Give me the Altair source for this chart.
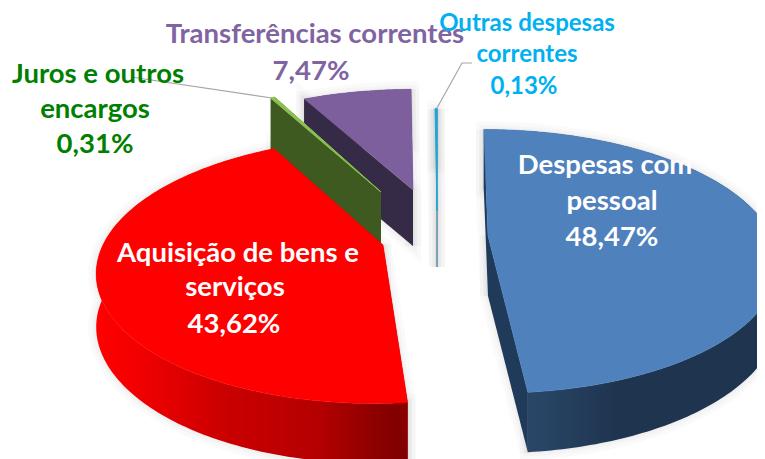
import math
import altair as alt

# Data
categories = ["Despesas com pessoal", "Aquisição de bens e serviços", "Juros e outros encargos",
              "Transferências correntes", "Outras despesas correntes"]
values = [48.47, 43.62, 0.31, 7.47, 0.13]

W, H, OFF = 749, 451, 8
K = 0.192

# Layout of each exploded slice in page pixels: vertex x, y, half-axis a, tilt b, depth axis d, thickness
layout = {
    0: (488, 236, 284, -5, 127, 60),
    1: (383, 245, 280, 7, 128, 60),
    2: (381, 192, 280, 5, 125, 53),
    3: (413, 190, 277, 0, 120, 56),
    4: (437, 211, 280, 0, 122, 56),
}

total = sum(values)
spans = []
c = 0.0
for v in values:
    spans.append((c / total * 2 * math.pi, (c + v) / total * 2 * math.pi))
    c += v


def rim(i, t):
    vx, vy, a, b, d, dep = layout[i]
    w = 1 + K * math.cos(t)
    return ((a * math.sin(t) + b * math.cos(t)) / w + vx - OFF,
            -d * math.cos(t) / w + vy - OFF)


def vertex(i):
    return (layout[i][0] - OFF, layout[i][1] - OFF)


def drop(p, i, t=None):
    dep = layout[i][5]
    if t is not None:
        dep *= 1 - 0.12 * math.sin(t) ** 2
    return (p[0], p[1] + dep)


def arc_pts(i, t0, t1):
    n = max(2, int((t1 - t0) * 60))
    return [rim(i, t0 + (t1 - t0) * j / n) for j in range(n + 1)], [t0 + (t1 - t0) * j / n for j in range(n + 1)]


def feature(pts):
    ring = [list(p) for p in pts]
    ring.append(ring[0])
    return {"type": "Feature", "properties": {}, "geometry": {"type": "Polygon", "coordinates": [ring]}}


def top_face(i):
    t0, t1 = spans[i]
    pts, _ = arc_pts(i, t0, t1)
    return feature([vertex(i)] + pts)


def outer_wall(i):
    t0, t1 = spans[i]
    pts, ts = arc_pts(i, t0, t1)
    low = [drop(p, i, t) for p, t in zip(pts, ts)]
    return feature(pts + low[::-1])


def edge_wall(i, t):
    v = vertex(i)
    r = rim(i, t)
    return feature([v, r, drop(r, i), drop(v, i)])


def geo(feats, **kw):
    return alt.Chart(alt.Data(values=feats)).mark_geoshape(clip=True, **kw).project(
        type="identity", scale=1, translate=[0, 0])


def slice_shape(i):
    return [outer_wall(i), edge_wall(i, spans[i][0]), edge_wall(i, spans[i][1])]


def hgrad(*stops):
    return alt.Gradient(gradient="linear", x1=0, x2=1, y1=0, y2=0,
                        stops=[alt.GradientStop(offset=o, color=c) for o, c in stops])


red_wall = hgrad((0, "#FF0000"), (0.12, "#F40000"), (0.4, "#CC0000"), (0.72, "#B40000"), (0.9, "#8C0000"), (1, "#7F0000"))
blue_wall = hgrad((0, "#2A4868"), (0.2, "#284565"), (0.45, "#1F344F"), (1, "#1F344F"))

layers = []
# soft shadows round the slice walls
for sw in (16, 9, 4):
    for i in (3, 4, 1, 0):
        layers.append(geo(slice_shape(i), fill="#000000", fillOpacity=0,
                          stroke="#000000", strokeWidth=sw, strokeOpacity=0.02))

# Transferências
layers.append(geo([edge_wall(3, spans[3][0]), edge_wall(3, spans[3][1]), outer_wall(3)], fill="#352B47"))
layers.append(geo([top_face(3)], fill="#7E5F9E", stroke="#7E5F9E", strokeWidth=0.5))
# Juros
layers.append(geo([edge_wall(2, spans[2][0]), edge_wall(2, spans[2][1])], fill="#3F5A20"))
layers.append(geo([top_face(2)], fill="#8CC152", stroke="#8CC152", strokeWidth=1))
# Outras
layers.append(geo([edge_wall(4, spans[4][1])], stroke="#5B8FA8", strokeWidth=1, fill="#5B8FA8"))
layers.append(geo([top_face(4)], stroke="#16A8DC", strokeWidth=1, fill="#16A8DC"))
# Aquisição
layers.append(geo([outer_wall(1)], fill=red_wall))
layers.append(geo([edge_wall(1, spans[1][0]), edge_wall(1, spans[1][1])], fill="#8A0000"))
layers.append(geo([top_face(1)], fill="#FF0000", stroke="#FF0000", strokeWidth=0.5))
# Despesas
layers.append(geo([outer_wall(0)], fill=blue_wall))
layers.append(geo([edge_wall(0, spans[0][0]), edge_wall(0, spans[0][1])], fill="#203A5A"))
layers.append(geo([top_face(0)], fill="#4F81BD", stroke="#4F81BD", strokeWidth=0.5))


def pct(v):
    return f"{v:.2f}".replace(".", ",") + "%"


# Leader lines (page pixels)
leaders = [
    [(131, 77), (272, 98)],
    [(437, 108), (462, 63), (472, 63)],
]
for seg in leaders:
    rows = [{"x": x - OFF, "y": y - OFF, "o": n} for n, (x, y) in enumerate(seg)]
    layers.append(alt.Chart(alt.Data(values=rows)).mark_line(color="#A6A6A6", strokeWidth=1.2).encode(
        x=alt.X("x:Q", scale=None, axis=None), y=alt.Y("y:Q", scale=None, axis=None), order="o:Q"))

label_rows = [
    ("Despesas com", 605, 166, "#FFFFFF", 27.5), ("pessoal", 612, 202, "#FFFFFF", 27.5), (pct(values[0]), 612, 238, "#FFFFFF", 27.5),
    ("Aquisição de bens e", 238, 254, "#FFFFFF", 27.5), ("serviços", 235, 288, "#FFFFFF", 27.5), (pct(values[1]), 234, 325, "#FFFFFF", 27.5),
    ("Juros e outros", 98, 75, "#008000", 27.5), ("encargos", 95, 110, "#008000", 27.5), (pct(values[2]), 95, 145, "#008000", 27.5),
    ("Transferências correntes", 315, 35, "#8064A2", 27.5), (pct(values[3]), 311, 72, "#8064A2", 27.5),
    ("Outras despesas", 527, 24, "#00B0F0", 24), ("correntes", 527, 55, "#00B0F0", 24), (pct(values[4]), 524, 87, "#00B0F0", 24),
]
text_data = [{"t": t, "x": x - OFF, "y": y - OFF, "c": c, "s": s} for t, x, y, c, s in label_rows]
layers.append(alt.Chart(alt.Data(values=text_data)).mark_text(
    font="Lato", fontWeight="bold", align="center", baseline="middle").encode(
    x=alt.X("x:Q", scale=None, axis=None), y=alt.Y("y:Q", scale=None, axis=None),
    text="t:N", color=alt.Color("c:N", scale=None, legend=None),
    size=alt.Size("s:Q", scale=None, legend=None)))

chart = alt.layer(*layers).properties(
    width=W, height=H, padding=0, autosize=alt.AutoSizeParams(type="none"), background="white"
).configure_view(stroke=None)

chart.save("out.html", embed_options={"renderer": "svg", "actions": False})
